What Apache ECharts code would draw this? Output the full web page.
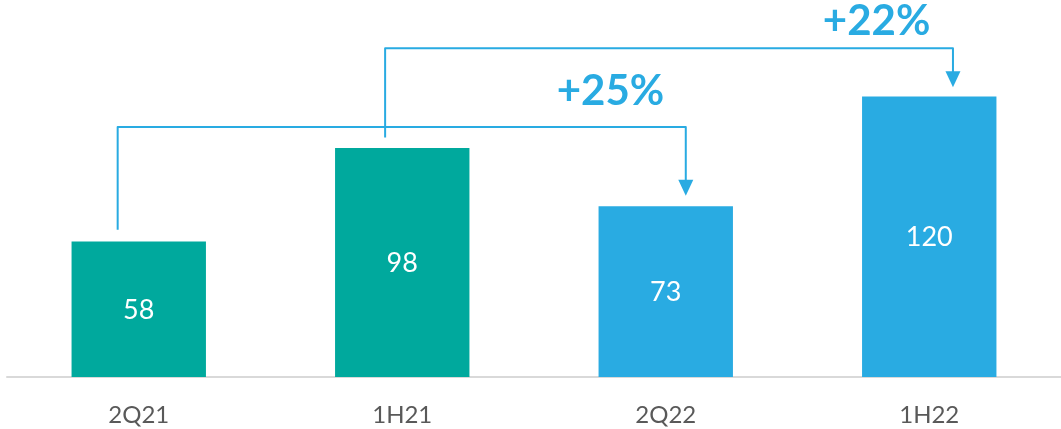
<!DOCTYPE html>
<html>
<head>
<meta charset="utf-8">
<script src="https://cdn.jsdelivr.net/npm/echarts@6/dist/echarts.min.js"></script>
<style>
html,body{margin:0;padding:0;background:#fff;}
#chart{width:1061px;height:429px;}
</style>
</head>
<body>
<div id="chart"></div>
<script>
// ---- data ----
var categories = ['2Q21', '1H21', '2Q22', '1H22'];
var values = [58, 98, 73, 120];
var barColors = ['#00A99D', '#00A99D', '#29ABE2', '#29ABE2'];
// growth arrows: [fromIndex, toIndex, startValue, levelValue, endValue, labelValue]
var arrowFrom = [0, 1];
var arrowTo = [2, 3];
var arrowStart = [63, 102.5];
var arrowLevel = [107, 140.6];
var arrowEnd = [77.5, 124];
var arrowLabelValue = [122, 152];
var arrowLabels = ['+25%', '+22%'];

// ---- style (positions relative to band) ----
var arrowStartOffset = [-0.08, -0.065];
var arrowEndOffset = [0.076, 0.09];
var labelOffset = [-0.21, -0.2];
var arrowColor = '#29ABE2';

var chart = echarts.init(document.getElementById('chart'), null, {renderer: 'canvas'});

var arrowData = arrowFrom.map(function (f, i) {
  return [f, arrowTo[i], arrowStart[i], arrowLevel[i], arrowEnd[i], arrowLabelValue[i], i];
});

var option = {
  animation: false,
  backgroundColor: '#ffffff',
  grid: {left: 7, right: 0, top: 3, bottom: 52, containLabel: false},
  xAxis: {
    type: 'category',
    data: categories,
    axisLine: {show: true, lineStyle: {color: '#D9D9D9', width: 2}},
    axisTick: {show: false},
    axisLabel: {color: '#595959', fontSize: 24, fontFamily: 'Lato', margin: 26}
  },
  yAxis: {
    type: 'value',
    min: 0,
    max: 160,
    show: false,
    splitLine: {show: false}
  },
  series: [
    {
      type: 'bar',
      barWidth: '51%',
      data: values.map(function (v, i) {
        return {value: v, itemStyle: {color: barColors[i]}};
      }),
      label: {
        show: true,
        position: 'inside',
        color: '#ffffff',
        fontSize: 27,
        fontFamily: 'Lato',
        offset: [0, 1]
      }
    },
    {
      type: 'custom',
      clip: false,
      silent: true,
      encode: {x: [0, 1], y: [2, 3, 4, 5]},
      data: arrowData,
      renderItem: function (params, api) {
        var idx = api.value(6);
        var band = api.size([1, 0])[0];
        var p0 = api.coord([api.value(0), api.value(2)]);
        var pL0 = api.coord([api.value(0), api.value(3)]);
        var pL1 = api.coord([api.value(1), api.value(3)]);
        var pE = api.coord([api.value(1), api.value(4)]);
        var pT = api.coord([api.value(1), api.value(5)]);
        var x0 = p0[0] + arrowStartOffset[idx] * band;
        var x1 = pL1[0] + arrowEndOffset[idx] * band;
        var headH = 16, headW = 15;
        return {
          type: 'group',
          children: [
            {
              type: 'polyline',
              shape: {points: [[x0, p0[1]], [x0, pL0[1]], [x1, pL1[1]], [x1, pE[1] - headH + 1]]},
              style: {stroke: arrowColor, lineWidth: 2, fill: null, lineJoin: 'round'}
            },
            {
              type: 'polygon',
              shape: {points: [[x1 - headW / 2, pE[1] - headH], [x1 + headW / 2, pE[1] - headH], [x1, pE[1]]]},
              style: {fill: arrowColor}
            },
            {
              type: 'text',
              x: pT[0] + labelOffset[idx] * band,
              y: pT[1],
              style: {
                text: arrowLabels[idx],
                fill: arrowColor,
                font: 'bold 42px Lato',
                align: 'center',
                verticalAlign: 'middle'
              }
            }
          ]
        };
      }
    }
  ]
};
chart.setOption(option);
</script>
</body>
</html>
